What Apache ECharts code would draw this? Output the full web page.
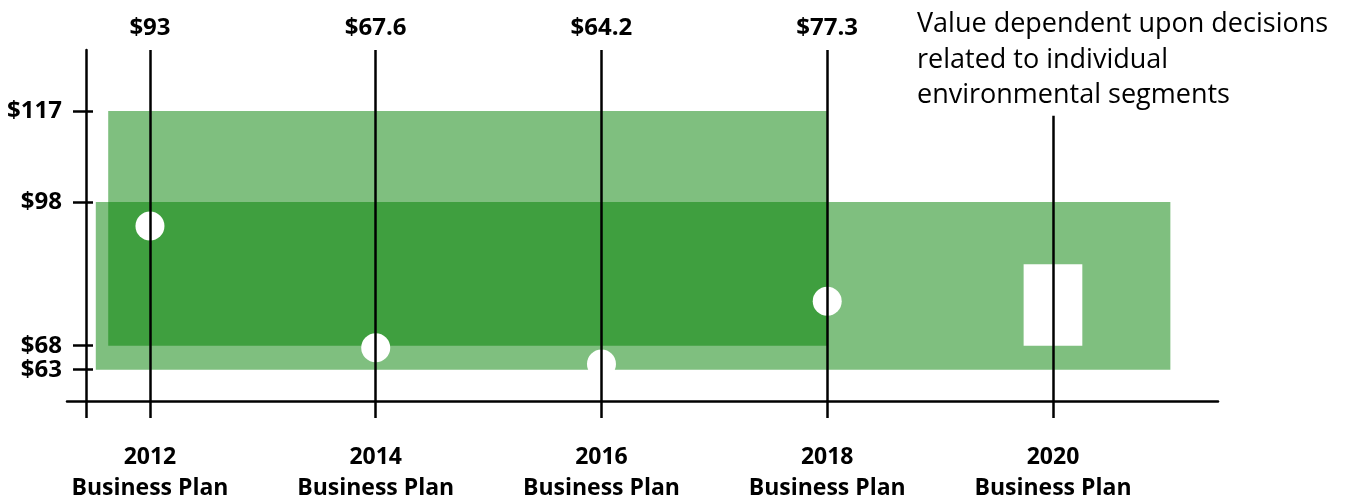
<!DOCTYPE html>
<html>
<head>
<meta charset="utf-8">
<script src="https://cdn.jsdelivr.net/npm/echarts@6/dist/echarts.min.js"></script>
<style>html,body{margin:0;padding:0;background:#fff}#c{width:1346px;height:499px}</style>
</head>
<body>
<div id="c"></div>
<script>
// ---- data ----
const years = [2012, 2014, 2016, 2018, 2020];
const planYears = [2012, 2014, 2016, 2018];
const planValues = [93, 67.6, 64.2, 77.3];
const yTickValues = [63, 68, 98, 117];
const categorySuffix = 'Business Plan';
// shaded ranges
const rangeFrom = [2011.63, 2011.52];
const rangeTo = [2018, 2021.04];
const rangeLow = [68, 63];
const rangeHigh = [117, 98];
// 2020 undetermined value box
const pendingYear = 2020;
const pendingLow = 68;
const pendingHigh = 85;
const pendingHalfWidth = 0.26;
const annotation = ['Value dependent upon decisions', 'related to individual', 'environmental segments'];

// ---- layout ----
const xMin = 2011.265, xMax = 2021.462;
const yMin = 56.46, yMax = 129.74;
const yAxisAt = 2011.433;
const line2020Top = 116;
const FONT = '"Open Sans", "Noto Sans", sans-serif';

const chart = echarts.init(document.getElementById('c'), null, {renderer: 'canvas'});

const lineData = years.map((yr, i) => {
  const isPlan = i < planValues.length;
  return [
    {name: isPlan ? '$' + planValues[i] : '', coord: [yr, yMin]},
    {coord: [yr, isPlan ? yMax : line2020Top]}
  ];
});

const areaData = rangeFrom.map((f, i) => [
  {coord: [f, rangeHigh[i]]},
  {coord: [rangeTo[i], rangeLow[i]]}
]);

const option = {
  backgroundColor: '#ffffff',
  animation: false,
  grid: {left: 67, right: 128, top: 50, bottom: 98, containLabel: false, outerBoundsMode: 'none'},
  xAxis: {
    type: 'value', min: xMin, max: xMax,
    axisLine: {show: true, lineStyle: {color: '#000', width: 2.5}},
    axisTick: {show: true, customValues: [yAxisAt].concat(years), length: 17, lineStyle: {color: '#000', width: 2.5}},
    axisLabel: {
      show: true, customValues: years, margin: 41, hideOverlap: false,
      formatter: v => v + '\n' + categorySuffix,
      fontFamily: FONT, fontWeight: 'bold', fontSize: 23, lineHeight: 31, color: '#000'
    },
    splitLine: {show: false}
  },
  yAxis: [{
    type: 'value', min: yMin, max: yMax, position: 'left', offset: -19,
    axisLine: {show: true, lineStyle: {color: '#000', width: 2.5}},
    axisTick: {show: true, customValues: yTickValues, length: 13, lineStyle: {color: '#000', width: 2.5}},
    axisLabel: {
      show: true, customValues: yTickValues, margin: 24, hideOverlap: false,
      formatter: v => '$' + v,
      fontFamily: FONT, fontWeight: 'bold', fontSize: 24, color: '#000'
    },
    splitLine: {show: false}
  }, {
    type: 'value', min: yMin, max: yMax, position: 'left', offset: -19,
    axisLine: {show: false},
    axisTick: {show: true, inside: true, customValues: yTickValues, length: 7, lineStyle: {color: '#000', width: 2.5}},
    axisLabel: {show: false},
    splitLine: {show: false}
  }],
  graphic: [{
    type: 'text', left: 917, top: 7, z: 10,
    style: {text: annotation.join('\n'), font: '27px ' + FONT, lineHeight: 35.5, fill: '#000'}
  }],
  series: [{
    type: 'line', data: [], z: 1, silent: true,
    markLine: {
      silent: true, symbol: 'none', animation: false,
      lineStyle: {color: '#000', width: 2.5, type: 'solid'},
      label: {show: true, position: 'end', formatter: '{b}', distance: 10,
              fontFamily: FONT, fontWeight: 'bold', fontSize: 24, color: '#000'},
      emphasis: {disabled: true},
      data: lineData
    }
  }, {
    type: 'line', data: [], z: 2, silent: true,
    markArea: {
      silent: true, itemStyle: {color: 'rgba(0,128,0,0.5)'},
      emphasis: {disabled: true},
      data: areaData
    }
  }, {
    type: 'line', data: [], z: 3, silent: true,
    markArea: {
      silent: true, itemStyle: {color: '#ffffff', opacity: 1},
      emphasis: {disabled: true},
      data: [[{coord: [pendingYear - pendingHalfWidth, pendingHigh]}, {coord: [pendingYear + pendingHalfWidth, pendingLow]}]]
    }
  }, {
    type: 'scatter', z: 4, silent: true,
    symbol: 'circle', symbolSize: 29,
    itemStyle: {color: '#ffffff', opacity: 1},
    data: planYears.map((yr, i) => [yr, planValues[i]])
  }]
};
chart.setOption(option);
</script>
</body>
</html>
